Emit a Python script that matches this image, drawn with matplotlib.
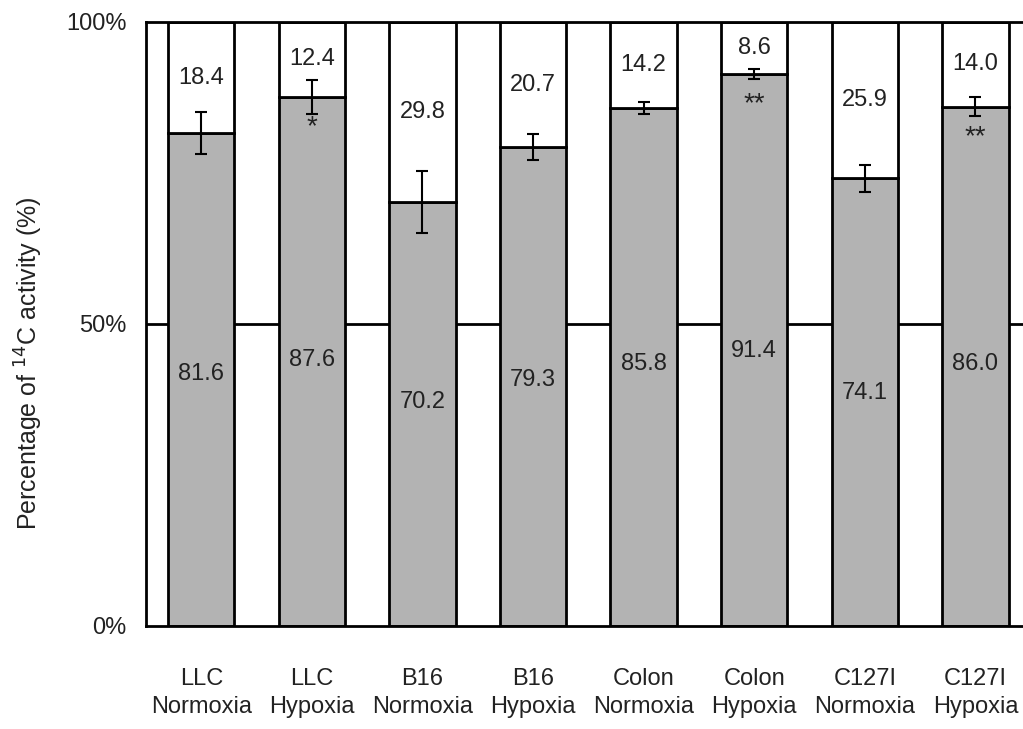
import numpy as np
import matplotlib
matplotlib.use('Agg')
import matplotlib.pyplot as plt

plt.rcParams['font.family'] = ['Liberation Sans', 'DejaVu Sans']
plt.rcParams['text.color'] = '#222222'
plt.rcParams['xtick.color'] = '#222222'
plt.rcParams['ytick.color'] = '#222222'
plt.rcParams['axes.labelcolor'] = '#222222'

# data
labels = ['LLC\nNormoxia', 'LLC\nHypoxia', 'B16\nNormoxia', 'B16\nHypoxia',
          'Colon\nNormoxia', 'Colon\nHypoxia', 'C127I\nNormoxia', 'C127I\nHypoxia']
lower = [81.6, 87.6, 70.2, 79.3, 85.8, 91.4, 74.1, 86.0]
upper = [18.4, 12.4, 29.8, 20.7, 14.2, 8.6, 25.9, 14.0]
err = [3.5, 2.8, 5.2, 2.1, 1.0, 0.8, 2.2, 1.6]
stars = ['', '*', '', '', '', '**', '', '**']

fig = plt.figure(figsize=(10.23, 7.29), dpi=100)
ax = fig.add_axes([146 / 1023, 1 - 626 / 729, 1 - 146 / 1023, (626 - 22) / 729])

x = np.arange(len(labels))
w = 0.6
fs = 17
ax.axhline(50, color='black', lw=2, zorder=0)
ax.bar(x, lower, w, color='#b3b3b3', edgecolor='black', lw=2, zorder=2)
ax.bar(x, upper, w, bottom=lower, color='white', edgecolor='black', lw=2, zorder=2)
ax.errorbar(x, lower, yerr=err, fmt='none', ecolor='black', elinewidth=1.5,
            capsize=4.5, capthick=1.5, zorder=3)

for i in range(len(x)):
    ax.text(x[i], lower[i] + upper[i] / 2, f'{upper[i]:.1f}', ha='center', va='center',
            fontsize=fs, zorder=4)
    ax.text(x[i], lower[i] * 0.4 + 9, f'{lower[i]:.1f}', ha='center', va='center',
            fontsize=fs, zorder=4)
    if stars[i]:
        ax.text(x[i], lower[i] - 5, stars[i], ha='center', va='center',
                fontsize=20, zorder=4)

ax.set_xlim(-0.5, 7.43)
ax.set_ylim(0, 100)
ax.set_yticks([0, 50, 100])
ax.set_yticklabels(['0%', '50%', '100%'], fontsize=fs)
ax.set_xticks(x)
ax.set_xticklabels(labels, fontsize=fs, linespacing=1.35)
ax.tick_params(axis='both', length=0)
ax.tick_params(axis='x', pad=30)
ax.tick_params(axis='y', pad=14)

ax.spines['right'].set_visible(False)
for s in ['left', 'top', 'bottom']:
    ax.spines[s].set_linewidth(2)

ax.set_ylabel('Percentage of $^{14}$C activity (%)', fontsize=18)
ax.yaxis.set_label_coords(-0.115, 0.435)

fig.savefig('out.png', dpi=100)
